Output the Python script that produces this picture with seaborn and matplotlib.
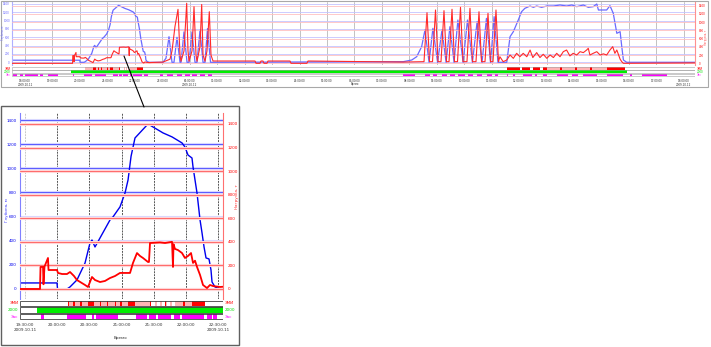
import matplotlib
matplotlib.use("Agg")
import matplotlib.pyplot as plt
import seaborn as sns
import pandas as pd
from matplotlib.patches import Rectangle
from matplotlib.lines import Line2D

sns.set_style("white")
plt.rcParams['font.family'] = ['DejaVu Sans']

# ---------------- data (time = hours since 2009.10.11 18:00) ----------------
depth_h = [-0.47, 1.997, 2.005, 2.152, 2.199, 2.307, 2.432, 2.509, 2.540, 2.587, 2.665, 2.820,
           2.866, 2.975, 3.053, 3.100, 3.147, 3.208, 3.410, 3.643, 3.783, 3.938, 3.984, 4.031,
           4.093, 4.109, 4.171, 4.218, 4.249, 4.280, 4.311, 4.357, 4.388, 4.404, 4.450, 4.528,
           5.027, 5.137, 5.246, 5.355, 5.428, 5.537, 5.647, 5.683, 5.792, 5.902, 5.975, 6.084,
           6.193, 6.266, 6.375, 6.485, 6.557, 6.648, 6.758,
           13.78, 14.09, 14.27, 14.39, 14.45, 14.57, 14.72, 14.86, 15.03, 15.19, 15.34, 15.48,
           15.63, 15.77, 15.96, 16.12, 16.30, 16.47, 16.65, 16.81, 16.96, 17.09, 17.23,
           17.55, 17.67, 17.79, 17.97, 18.09, 18.21, 18.40, 18.52, 18.64, 18.82, 19.01, 19.25,
           19.49, 19.73, 19.92, 20.10, 20.34, 20.52, 20.70, 20.83, 20.89, 21.19, 21.31, 21.43,
           21.56, 21.68, 21.74, 21.80, 21.92, 24.41]
depth_m = [50, 50, 0, 0, 17, 75, 215, 381, 406, 348, 423, 572,
           597, 680, 795, 903, 1100, 1251, 1367, 1293, 1260, 1210, 1176, 1110,
           1085, 1011, 795, 572, 464, 348, 257, 249, 157, 58, 17, 0,
           0, 100, 615, 0, 0, 600, 0, 0, 730, 0, 0, 730,
           0, 0, 770, 0, 0, 810, 0,
           15, 55, 135, 295, 375, 775, 0, 815, 0, 775, 0, 855,
           0, 1015, 0, 1015, 0, 975, 0, 1055, 0, 1095, 0,
           0, 615, 735, 1015, 1215, 1296, 1352, 1320, 1352, 1320, 1352, 1352,
           1376, 1352, 1376, 1336, 1376, 1320, 1336, 1400, 1256, 1256, 1360, 1177,
           696, 735, 375, 55, 0, 0]

load_h = [-0.47, 1.733, 1.741, 1.780, 1.787, 1.803, 1.857, 1.865, 1.997, 2.012, 2.075, 2.152,
          2.199, 2.261, 2.307, 2.385, 2.432, 2.478, 2.509, 2.540, 2.587, 2.665, 2.742, 2.820,
          2.898, 2.975, 3.053, 3.131, 3.177, 3.239, 3.286, 3.332, 3.410, 3.425, 3.441, 3.596,
          3.674, 3.783, 3.798, 3.806, 3.829, 3.876, 3.938, 3.984, 4.031, 4.078, 4.109, 4.140,
          4.171, 4.218, 4.264, 4.326, 4.373, 4.419, 4.528, 4.600,
          5.027, 5.282, 5.355, 5.465, 5.574, 5.647, 5.683, 5.792, 5.890, 5.938, 5.975, 6.084,
          6.157, 6.230, 6.266, 6.375, 6.437, 6.485, 6.557, 6.630, 6.714, 6.776, 6.849,
          8.379, 8.415, 8.561, 8.597, 8.670, 8.706, 8.816, 8.852, 9.654, 9.690, 10.27, 10.31,
          13.78, 14.39,
          14.536, 14.645, 14.736, 14.846, 14.955, 15.046, 15.155, 15.264, 15.355, 15.447,
          15.556, 15.647, 15.756, 15.865, 15.956, 16.101, 16.210, 16.302, 16.430, 16.539,
          16.630, 16.758, 16.867, 16.958, 17.049, 17.158, 17.249,
          17.30, 17.42, 17.55, 17.67, 17.79, 17.91, 18.03, 18.15, 18.28, 18.40, 18.50, 18.64,
          18.76, 18.88, 19.01, 19.13, 19.25, 19.37, 19.49, 19.61, 19.73, 19.85, 19.97, 20.10,
          20.22, 20.34, 20.46, 20.52, 20.58, 20.70, 20.83, 20.95, 21.07, 21.19, 21.31, 21.41,
          21.49, 21.56, 21.68, 21.74, 21.80, 24.41]
load_t = [0, 0, 187, 187, 40, 190, 263, 161, 161, 136, 127, 127,
          144, 110, 76, 50, 34, 17, 60, 102, 76, 59, 68, 93,
          110, 136, 136, 136, 221, 305, 280, 263, 229, 229, 390, 395,
          390, 400, 187, 380, 340, 330, 305, 263, 280, 305, 221, 240,
          187, 119, 34, 8, 34, 25, 17, 20,
          30, 100, 300, 900, 1312, 200, 50, 300, 1460, 300, 50, 300,
          1376, 200, 50, 400, 1430, 200, 50, 300, 1254, 200, 56,
          56, 0, 0, 56, 56, 0, 0, 56, 56, 0, 0, 56,
          30, 40,
          40, 1230, 40, 40, 1296, 40, 40, 1280, 40, 40,
          1313, 40, 40, 1361, 40, 40, 1337, 40, 40, 1254,
          40, 40, 1215, 40, 40, 1296, 40,
          160, 40, 80, 202, 121, 243, 160, 243, 160, 323, 140, 260,
          140, 220, 121, 202, 140, 243, 160, 283, 323, 180, 243, 202,
          283, 260, 323, 364, 202, 243, 283, 202, 230, 202, 323, 404,
          243, 323, 100, 40, 0, 10]

# event strips (start, end) in hours
events_red_dark = [(2.168, 2.183), (2.245, 2.276), (2.354, 2.385), (2.478, 2.571), (2.665, 2.680),
                   (2.773, 2.789), (2.897, 2.913), (2.975, 3.006), (3.100, 3.208), (3.441, 3.457),
                   (3.674, 3.689), (3.953, 3.984), (4.093, 4.295), (17.56, 18.03), (18.11, 18.40),
                   (18.51, 18.76), (18.87, 19.02), (19.49, 19.56), (20.04, 20.11), (20.58, 20.66),
                   (21.20, 21.86)]
events_red_light = [(2.168, 3.441), (3.519, 3.550), (3.596, 3.627), (3.674, 3.705), (3.752, 3.783),
                    (3.829, 4.093), (19.02, 21.20)]
events_green = [(1.686, 21.93)]
events_magenta = [(-0.437, -0.291), (-0.182, -0.073), (0.0, 0.474), (0.546, 0.656), (0.838, 1.202),
                  (1.748, 1.795), (2.152, 2.447), (2.540, 2.571), (2.602, 2.944), (3.224, 3.400),
                  (3.425, 3.534), (3.565, 3.767), (3.814, 3.907), (3.938, 4.280), (4.326, 4.400),
                  (4.420, 4.480), (4.918, 5.027), (5.173, 5.392), (5.537, 5.719), (5.829, 6.011),
                  (6.084, 6.266), (6.375, 6.557), (6.667, 6.812), (13.77, 14.21), (14.57, 14.75),
                  (14.86, 15.01), (15.19, 15.37), (15.48, 15.66), (15.77, 16.03), (16.14, 16.32),
                  (16.47, 16.65), (16.83, 17.01), (17.12, 17.23), (17.56, 17.60), (17.78, 17.85),
                  (18.14, 18.47), (18.58, 18.65), (18.87, 19.02), (19.38, 19.78), (19.93, 20.15),
                  (20.33, 20.84), (21.20, 21.79), (22.04, 22.11), (22.48, 23.39)]

y_ticks = [0, 200, 400, 600, 800, 1000, 1200, 1400]
y_labels = ["0", "200", "400", "600", "800", "1000", "1200", "1400"]
top_hours = list(range(0, 25))
top_labels = ["%02d:00:00" % ((18 + h) % 24) for h in top_hours]
top_dates = {0: "2009.10.11", 6: "2009.10.12", 24: "2009.10.12"}
inset_hours = [1.5, 2.0, 2.5, 3.0, 3.5, 4.0, 4.5]
inset_labels = ["19:30:00", "20:00:00", "20:30:00", "21:00:00", "21:30:00", "22:00:00", "22:30:00"]
inset_dates = {0: "2009.10.11", 6: "2009.10.11"}
strip_names = ["ЗМИ", "2000", "Зас"]
strip_colors = ["#ff0000", "#00dd00", "#ff00ff"]
depth_label = "Глубина, м"
load_label = "Нагрузка, т"
time_label = "Время"

# ---------------- figure ----------------
W, H = 711, 347
fig = plt.figure(figsize=(W / 100, H / 100), dpi=100)


def rect(x0, y0, x1, y1):
    return [x0 / W, 1 - y1 / H, (x1 - x0) / W, (y1 - y0) / H]


df_depth = pd.DataFrame({"t": depth_h, "v": depth_m})
df_load = pd.DataFrame({"t": load_h, "v": load_t})


def draw_panel(box, strip_box, xlim, ylim_b, ylim_r, ticks, labels, dates, fs, style):
    ax = fig.add_axes(rect(*box))
    ax2 = ax.twinx()
    ax.set_xlim(*xlim)
    ax2.set_xlim(*xlim)
    ax.set_ylim(*ylim_b)
    ax2.set_ylim(*ylim_r)
    for i, t in enumerate(ticks):
        c = style["vcol"] if not (style["inset"] and i == 0) else "#c8c8c8"
        ax.axvline(t, color=c, lw=style["vlw"], ls=style["vls"], zorder=0)
    for v in y_ticks:
        if style["inset"]:
            ax.axhline(v, color="#d8d8ff", lw=2.2, zorder=0)
            ax2.axhline(v, color="#ffd6d6", lw=2.2, zorder=0)
        ax.axhline(v, color=style["bgrid"], lw=style["glw"], zorder=1)
        ax2.axhline(v, color=style["rgrid"], lw=style["glw"], zorder=1)
    sns.lineplot(data=df_depth, x="t", y="v", ax=ax, color=style["bline"], lw=style["blw"],
                 sort=False, estimator=None)
    sns.lineplot(data=df_load, x="t", y="v", ax=ax2, color=style["rline"], lw=style["rlw"],
                 sort=False, estimator=None)
    for a in (ax, ax2):
        a.set_xlabel("")
        a.set_ylabel("")
        for s in a.spines.values():
            s.set_visible(False)
    ax.spines["left"].set_visible(True)
    ax.spines["left"].set_color(style["bspine"])
    ax.spines["left"].set_linewidth(0.8)
    ax2.spines["right"].set_visible(True)
    ax2.spines["right"].set_color(style["rspine"])
    ax2.spines["right"].set_linewidth(0.8)
    ax.set_xticks([])
    ax.set_yticks(y_ticks, y_labels)
    ax2.set_yticks(y_ticks, y_labels)
    ax.tick_params(axis="y", length=0, pad=style["ypad"], labelsize=fs, labelcolor=style["bline"])
    ax2.tick_params(axis="y", length=0, pad=style["ypad2"], labelsize=fs, labelcolor="#ff0000")

    # strips
    sx = fig.add_axes(rect(*strip_box))
    sx.set_xlim(*xlim)
    sx.set_ylim(0, 3)
    rows = {2: [(events_red_light, "#ffb4b4"), (events_red_dark, "#ff0000")],
            1: [(events_green, "#00ee00")],
            0: [(events_magenta, "#ff00ff")]}
    for r, layers in rows.items():
        for ev, col in layers:
            sx.broken_barh([(a, b - a) for a, b in ev], (r + 0.08, 0.84), facecolors=col, lw=0)
        sx.add_patch(Rectangle((xlim[0], r + 0.08), xlim[1] - xlim[0], 0.84, fill=False,
                               ec=style["rowedge"], lw=style["rowlw"]))
    for s in sx.spines.values():
        s.set_visible(False)
    sx.set_yticks([])
    tl = [lab + ("\n" + dates[i] if i in dates else "") for i, lab in enumerate(labels)]
    sx.set_xticks(ticks, tl)
    sx.tick_params(axis="x", length=style["tlen"], width=0.5, pad=style["xpad"], labelsize=fs,
                   colors="#333333")
    for lab in sx.get_xticklabels():
        lab.set_linespacing(1.3)
    # row labels on both sides
    for k, (nm, col) in enumerate(zip(strip_names, strip_colors)):
        yy = strip_box[1] + (strip_box[3] - strip_box[1]) * (k + 0.5) / 3
        fig.text((strip_box[0] - style["lpad"]) / W, 1 - yy / H, nm, color=col, fontsize=fs,
                 ha="right", va="center")
        fig.text((strip_box[2] + style["lpad"]) / W, 1 - yy / H, nm, color=col, fontsize=fs,
                 ha="left", va="center")
    return ax, ax2


top_style = dict(inset=False, vcol="#b8b8b8", vlw=0.6, vls="-", bgrid="#c4c4ff", rgrid="#ffc0c0",
                 glw=0.6, bline="#6a6aff", blw=0.9, rline="#ff2a2a", rlw=0.8, bspine="#b0b0ff",
                 rspine="#ff9090", ypad=1.5, ypad2=3, rowedge="#a0a0a0", rowlw=0.4, tlen=1,
                 xpad=0.5, lpad=1.5)
inset_style = dict(inset=True, vcol="#555555", vlw=0.7, vls=(0, (2, 1)), bgrid="#5a5aff",
                   rgrid="#ff6a6a", glw=0.7, bline="#0000ee", blw=1.0, rline="#ff0000", rlw=1.3,
                   bspine="#8080ff", rspine="#ff7070", ypad=2.5, ypad2=3.5, rowedge="#404040",
                   rowlw=0.6, tlen=1.5, xpad=1, lpad=1.5)

draw_panel((12, 2, 695, 65), (12, 67, 695, 76.5), (-0.4736, 24.408), (-65, 1448), (-41, 1490),
           top_hours, top_labels, top_dates, 2.0, top_style)
draw_panel((20, 113, 223, 299), (20, 300, 223, 320), (1.4224, 4.5745), (-83, 1458), (-85, 1493),
           inset_hours, inset_labels, inset_dates, 3.0, inset_style)

# axis titles
fig.text(2.6 / W, 1 - 33 / H, depth_label, rotation=90, color="#6a6aff", fontsize=1.8, ha="center", va="center")
fig.text(706 / W, 1 - 37 / H, load_label, rotation=90, color="#ff5050", fontsize=1.8, ha="center", va="center")
fig.text(355 / W, 1 - 84.3 / H, time_label, color="#333333", fontsize=1.8, ha="center", va="center")
fig.text(7 / W, 1 - 210 / H, depth_label, rotation=90, color="#4040ff", fontsize=3, ha="center", va="center")
fig.text(237 / W, 1 - 197 / H, load_label, rotation=90, color="#ff3030", fontsize=3, ha="center", va="center")
fig.text(120 / W, 1 - 338 / H, time_label, color="#333333", fontsize=3, ha="center", va="center")

# frames and connector
fig.add_artist(Rectangle((1 / W, 1 - 86.5 / H), 707 / W, 85.5 / H, transform=fig.transFigure,
                         fill=False, ec="#a8a8a8", lw=0.8))
fig.add_artist(Rectangle((1 / W, 1 - 345 / H), 238 / W, 239 / H, transform=fig.transFigure,
                         fill=False, ec="#606060", lw=1.0))
fig.add_artist(Line2D([124 / W, 144 / W], [1 - 56 / H, 1 - 107 / H], transform=fig.transFigure,
                      color="black", lw=0.8))

fig.savefig("out.png", dpi=100)
